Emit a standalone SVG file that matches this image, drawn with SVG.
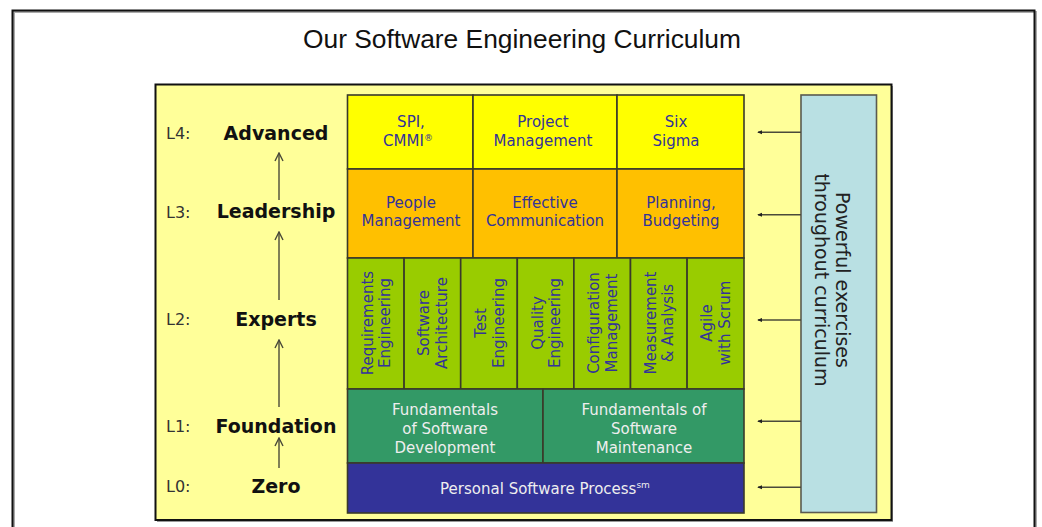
<svg xmlns="http://www.w3.org/2000/svg" width="1042" height="527" viewBox="0 0 1042 527">
<defs>
<style>
.lvl{font-family:"DejaVu Sans","Verdana",sans-serif;font-size:16px;fill:#333333}
.name{font-family:"DejaVu Sans","Verdana",sans-serif;font-size:19px;font-weight:bold;fill:#111111;text-anchor:middle}
.cell{stroke:#3a3a2a;stroke-width:1.6}
.t{font-family:"DejaVu Sans","Verdana",sans-serif;font-size:15px;fill:#333399;text-anchor:middle}
.tl{font-family:"DejaVu Sans","Verdana",sans-serif;font-size:15px;fill:#eeeeee;text-anchor:middle}
.conn{stroke:#4a4a3a;stroke-width:1.4;fill:none}
</style>
<marker id="up" viewBox="0 0 10 10" refX="9" refY="5" markerWidth="10" markerHeight="10" markerUnits="userSpaceOnUse" orient="auto">
<path d="M1,1 L9,5 L1,9" fill="none" stroke="#4a4a3a" stroke-width="1.4"/>
</marker>
<marker id="dot" viewBox="0 0 6 6" refX="5" refY="3" markerWidth="5" markerHeight="5" markerUnits="userSpaceOnUse" orient="auto">
<path d="M0,0.5 L6,3 L0,5.5 Z" fill="#222"/>
</marker>
</defs>
<rect width="1042" height="527" fill="#ffffff"/>
<g id="frame">
<rect x="14" y="12" width="1022" height="530" fill="none" stroke="#aaaaaa" stroke-width="2"/>
<rect x="12.5" y="10.5" width="1022" height="530" fill="none" stroke="#111111" stroke-width="2"/>
</g>
<text id="title" x="522" y="48" text-anchor="middle" font-family="Liberation Sans, Arial, sans-serif" font-size="25" fill="#111111" textLength="438" lengthAdjust="spacingAndGlyphs">Our Software Engineering Curriculum</text>
<g id="panel">
<rect x="157" y="86" width="736" height="436" fill="#999999"/>
<rect x="155.5" y="84.5" width="736" height="435.5" fill="#ffff99" stroke="#111111" stroke-width="2"/>
</g>
<g id="levels">
<text class="lvl" x="166" y="139">L4:</text>
<text class="lvl" x="166" y="218">L3:</text>
<text class="lvl" x="166" y="325">L2:</text>
<text class="lvl" x="166" y="432">L1:</text>
<text class="lvl" x="166" y="492">L0:</text>
</g>
<g id="level-advanced"><text class="name" x="276" y="140">Advanced</text></g>
<g id="level-leadership"><text class="name" x="276" y="218">Leadership</text></g>
<g id="level-experts"><text class="name" x="276" y="326">Experts</text></g>
<g id="level-foundation"><text class="name" x="276" y="433">Foundation</text></g>
<g id="level-zero"><text class="name" x="276" y="493">Zero</text></g>
<g id="L4">
<g id="spi"><rect class="cell" x="347.5" y="95" width="125.5" height="74" fill="#ffff00"/>
<text class="t" x="411" y="127">SPI,</text><text class="t" x="408" y="146">CMMI<tspan font-size="9" dy="-5">®</tspan></text></g>
<g id="pm"><rect class="cell" x="473" y="95" width="144" height="74" fill="#ffff00"/>
<text class="t" x="543" y="127">Project</text><text class="t" x="543" y="146">Management</text></g>
<g id="sixsigma"><rect class="cell" x="617" y="95" width="127" height="74" fill="#ffff00"/>
<text class="t" x="676" y="127">Six</text><text class="t" x="676" y="146">Sigma</text></g>
</g>
<g id="L3">
<g id="people"><rect class="cell" x="347.5" y="169" width="125.5" height="89" fill="#ffc000"/>
<text class="t" x="411" y="208">People</text><text class="t" x="411" y="226">Management</text></g>
<g id="comm"><rect class="cell" x="473" y="169" width="144" height="89" fill="#ffc000"/>
<text class="t" x="545" y="208">Effective</text><text class="t" x="545" y="226">Communication</text></g>
<g id="planning"><rect class="cell" x="617" y="169" width="127" height="89" fill="#ffc000"/>
<text class="t" x="681" y="208">Planning,</text><text class="t" x="681" y="226">Budgeting</text></g>
</g>
<g id="L2">
<g id="req"><rect class="cell" x="347.5" y="258" width="56.6" height="131" fill="#99cc00"/>
<text class="t" transform="translate(375.8,323) rotate(-90)"><tspan x="0" y="-3">Requirements</tspan><tspan x="0" y="14.5">Engineering</tspan></text></g>
<g id="arch"><rect class="cell" x="404.1" y="258" width="56.6" height="131" fill="#99cc00"/>
<text class="t" transform="translate(432.4,323) rotate(-90)"><tspan x="0" y="-3">Software</tspan><tspan x="0" y="14.5">Architecture</tspan></text></g>
<g id="test"><rect class="cell" x="460.7" y="258" width="56.6" height="131" fill="#99cc00"/>
<text class="t" transform="translate(489,323) rotate(-90)"><tspan x="0" y="-3">Test</tspan><tspan x="0" y="14.5">Engineering</tspan></text></g>
<g id="quality"><rect class="cell" x="517.3" y="258" width="56.6" height="131" fill="#99cc00"/>
<text class="t" transform="translate(545.6,323) rotate(-90)"><tspan x="0" y="-3">Quality</tspan><tspan x="0" y="14.5">Engineering</tspan></text></g>
<g id="config"><rect class="cell" x="573.9" y="258" width="56.6" height="131" fill="#99cc00"/>
<text class="t" transform="translate(602.2,323) rotate(-90)"><tspan x="0" y="-3">Configuration</tspan><tspan x="0" y="14.5">Management</tspan></text></g>
<g id="measure"><rect class="cell" x="630.5" y="258" width="56.6" height="131" fill="#99cc00"/>
<text class="t" transform="translate(658.8,323) rotate(-90)"><tspan x="0" y="-3">Measurement</tspan><tspan x="0" y="14.5">&amp; Analysis</tspan></text></g>
<g id="agile"><rect class="cell" x="687.1" y="258" width="56.9" height="131" fill="#99cc00"/>
<text class="t" transform="translate(715.4,323) rotate(-90)"><tspan x="0" y="-3">Agile</tspan><tspan x="0" y="14.5">with Scrum</tspan></text></g>
</g>
<g id="L1">
<g id="fsd"><rect class="cell" x="347.5" y="389" width="195.5" height="74" fill="#339966"/>
<text class="tl" x="445" y="415">Fundamentals</text><text class="tl" x="445" y="434">of Software</text><text class="tl" x="445" y="453">Development</text></g>
<g id="fsm"><rect class="cell" x="543" y="389" width="201" height="74" fill="#339966"/>
<text class="tl" x="644" y="415">Fundamentals of</text><text class="tl" x="644" y="434">Software</text><text class="tl" x="644" y="453">Maintenance</text></g>
</g>
<g id="L0">
<g id="psp"><rect class="cell" x="347.5" y="463" width="396.5" height="50" fill="#333399"/>
<text class="tl" x="545" y="494">Personal Software Process<tspan font-size="9" dy="-6">sm</tspan></text></g>
</g>
<g id="exercises">
<rect x="801" y="95" width="75.5" height="417.5" fill="#b9e0e3" stroke="#5a5a50" stroke-width="1.6"/>
<text transform="translate(838.8,280) rotate(90)" font-family="DejaVu Sans, Verdana, sans-serif" font-size="19" fill="#222222" text-anchor="middle"><tspan x="0" y="2.5">Powerful exercises</tspan><tspan x="0" y="23.5">throughout curriculum</tspan></text>
</g>
<g id="connectors">
<line class="conn" x1="279" y1="200" x2="279" y2="153" marker-end="url(#up)"/>
<line class="conn" x1="279" y1="300" x2="279" y2="232" marker-end="url(#up)"/>
<line class="conn" x1="279" y1="407" x2="279" y2="340" marker-end="url(#up)"/>
<line class="conn" x1="279" y1="468" x2="279" y2="438" marker-end="url(#up)"/>
<line class="conn" x1="801" y1="132.3" x2="758" y2="132.3" marker-end="url(#dot)"/>
<line class="conn" x1="801" y1="214.7" x2="758" y2="214.7" marker-end="url(#dot)"/>
<line class="conn" x1="801" y1="320" x2="758" y2="320" marker-end="url(#dot)"/>
<line class="conn" x1="801" y1="421.3" x2="758" y2="421.3" marker-end="url(#dot)"/>
<line class="conn" x1="801" y1="487.3" x2="758" y2="487.3" marker-end="url(#dot)"/>
</g>
</svg>
